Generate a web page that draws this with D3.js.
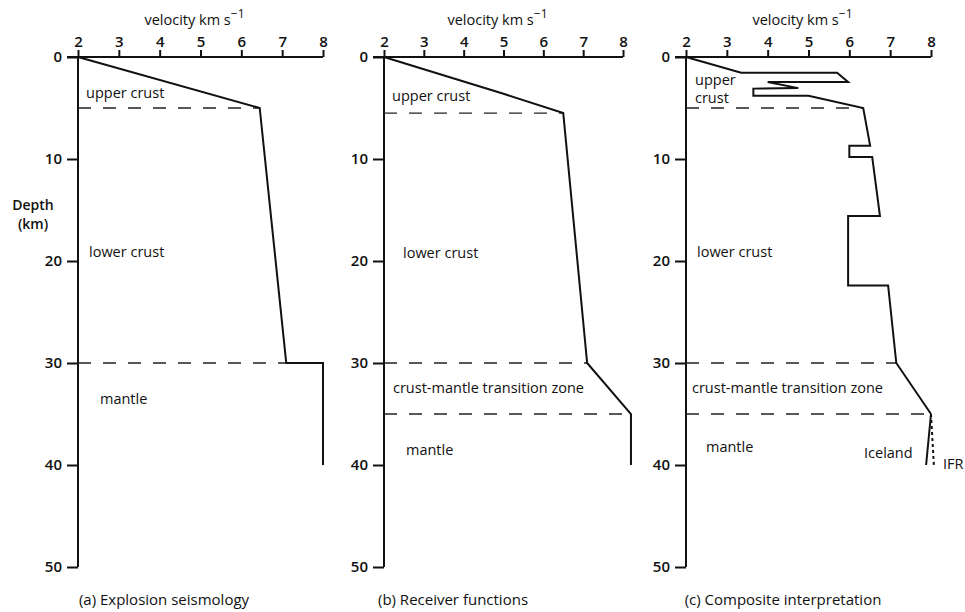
<!DOCTYPE html>
<html>
<head>
<meta charset="utf-8">
<script src="https://cdn.jsdelivr.net/npm/d3@7"></script>
<style>
  html, body { margin: 0; padding: 0; background: #fff; }
  svg { display: block; font-family: "Open Sans", "Noto Sans", sans-serif; }
  text { fill: #111; }
</style>
</head>
<body>
<svg id="chart" width="965" height="612"></svg>
<script>
// Axis ticks shared by all three panels
const velocityTicks = [2, 3, 4, 5, 6, 7, 8];
const depthTicks = [0, 10, 20, 30, 40, 50];

// Velocity-depth profiles: [velocity km/s, depth km]
const explosionProfile = [[2, 0], [6.45, 5], [7.1, 30], [8, 30], [8, 40]];
const receiverProfile = [[2, 0], [5, 3.6], [6.5, 5.5], [7.1, 30], [8.2, 35], [8.2, 40]];
const compositeProfile = [
  [2, 0], [3.35, 1.55], [5.7, 1.55], [5.97, 2.45], [4.0, 2.45], [4.75, 3.05],
  [3.65, 3.1], [3.65, 3.8], [5.0, 3.8], [6.34, 5.0], [6.51, 8.7], [6.0, 8.7],
  [6.0, 9.8], [6.56, 9.8], [6.75, 15.6], [5.97, 15.6], [5.97, 22.4], [6.95, 22.4],
  [7.15, 30], [8.0, 35]
];
const icelandProfile = [[8.0, 35], [7.88, 40]];
const ifrProfile = [[8.0, 35], [8.07, 40]];

// Layer boundaries (depth km) drawn as dashed lines
const explosionBoundaries = [5, 30];
const receiverBoundaries = [5.5, 30, 35];
const compositeBoundaries = [5, 30, 35];

const svg = d3.select("#chart");
const yScale = d3.scaleLinear().domain([0, 50]).range([57, 567]);
const LABEL_SIZE = 14.5;
const TICK_SIZE = 15;

const panels = [
  {
    range: [78, 323], profile: explosionProfile, boundaries: explosionBoundaries,
    caption: "(a) Explosion seismology", captionX: 164,
    labels: [
      { t: "upper crust", x: 86, y: 98 },
      { t: "lower crust", x: 89, y: 257 },
      { t: "mantle", x: 100, y: 404 }
    ]
  },
  {
    range: [384, 623], profile: receiverProfile, boundaries: receiverBoundaries,
    caption: "(b) Receiver functions", captionX: 453,
    labels: [
      { t: "upper crust", x: 392, y: 101 },
      { t: "lower crust", x: 403, y: 258 },
      { t: "crust-mantle transition zone", x: 393, y: 393 },
      { t: "mantle", x: 406, y: 455 }
    ]
  },
  {
    range: [686, 931], profile: compositeProfile, boundaries: compositeBoundaries,
    caption: "(c) Composite interpretation", captionX: 783,
    labels: [
      { t: "upper", x: 695, y: 85 },
      { t: "crust", x: 695, y: 103 },
      { t: "lower crust", x: 697, y: 257 },
      { t: "crust-mantle transition zone", x: 692, y: 393 },
      { t: "mantle", x: 706, y: 452 },
      { t: "Iceland", x: 864, y: 458 },
      { t: "IFR", x: 943, y: 469 }
    ],
    extra: true
  }
];

const line = d3.line();

panels.forEach(p => {
  const x = d3.scaleLinear().domain([2, 8]).range(p.range);
  const g = svg.append("g");
  const x0 = x(2);

  // Top velocity axis
  const top = g.append("g").attr("transform", `translate(0,${yScale(0)})`)
    .call(d3.axisTop(x).tickValues(velocityTicks).tickSize(7).tickPadding(3)
      .tickFormat(d3.format("d")));
  top.select(".domain").attr("stroke", "#111").attr("stroke-width", 2)
    .attr("d", `M${x0 - 11},0H${x(8)}`);
  top.selectAll(".tick line").attr("stroke", "#111").attr("stroke-width", 2);
  top.selectAll(".tick text").attr("font-size", TICK_SIZE).attr("font-family", "Open Sans")
    .attr("font-weight", 600).attr("fill", "#111");

  // Axis title with superscript
  const title = g.append("text").attr("x", (x0 + x(8)) / 2 - 6).attr("y", 25)
    .attr("text-anchor", "middle").attr("font-size", LABEL_SIZE).attr("font-weight", 500);
  title.append("tspan").text("velocity km  s");
  title.append("tspan").attr("dy", -7).attr("font-size", 12).text("\u22121");

  // Left depth axis
  const left = g.append("g").attr("transform", `translate(${x0},0)`)
    .call(d3.axisLeft(yScale).tickValues(depthTicks).tickSize(11).tickPadding(5)
      .tickFormat(d3.format("d")));
  left.select(".domain").attr("stroke", "#111").attr("stroke-width", 2)
    .attr("d", `M0,${yScale(0)}V${yScale(50)}`);
  left.selectAll(".tick line").attr("stroke", "#111").attr("stroke-width", 2);
  left.selectAll(".tick text").attr("font-size", TICK_SIZE).attr("font-family", "Open Sans")
    .attr("font-weight", 600).attr("fill", "#111");

  // Dashed layer boundaries, ending at the profile
  p.boundaries.forEach(d => {
    const pt = p.profile.find(v => Math.abs(v[1] - d) < 1e-9);
    g.append("line")
      .attr("x1", x0).attr("x2", x(pt[0]))
      .attr("y1", yScale(d)).attr("y2", yScale(d))
      .attr("stroke", "#222").attr("stroke-width", 1.3)
      .attr("stroke-dasharray", "13,12");
  });

  // Velocity profile
  g.append("path")
    .attr("d", line(p.profile.map(v => [x(v[0]), yScale(v[1])])))
    .attr("fill", "none").attr("stroke", "#111").attr("stroke-width", 2)
    .attr("stroke-linejoin", "miter");

  if (p.extra) {
    g.append("path")
      .attr("d", line(icelandProfile.map(v => [x(v[0]), yScale(v[1])])))
      .attr("fill", "none").attr("stroke", "#111").attr("stroke-width", 2);
    g.append("path")
      .attr("d", line(ifrProfile.map(v => [x(v[0]), yScale(v[1])])))
      .attr("fill", "none").attr("stroke", "#111").attr("stroke-width", 2)
      .attr("stroke-dasharray", "3,3");
  }

  // Layer labels
  p.labels.forEach(l => {
    g.append("text").attr("x", l.x).attr("y", l.y)
      .attr("font-size", LABEL_SIZE).attr("font-weight", 500).text(l.t);
  });

  // Panel caption
  g.append("text").attr("x", p.captionX).attr("y", 605)
    .attr("text-anchor", "middle").attr("font-size", 15).attr("font-weight", 500)
    .text(p.caption);
});

// Depth axis title
svg.append("text").attr("x", 33).attr("y", 210).attr("text-anchor", "middle")
  .attr("font-size", 14).attr("font-weight", 600).text("Depth");
svg.append("text").attr("x", 33).attr("y", 229).attr("text-anchor", "middle")
  .attr("font-size", 14).attr("font-weight", 600).text("(km)");
</script>
</body>
</html>
